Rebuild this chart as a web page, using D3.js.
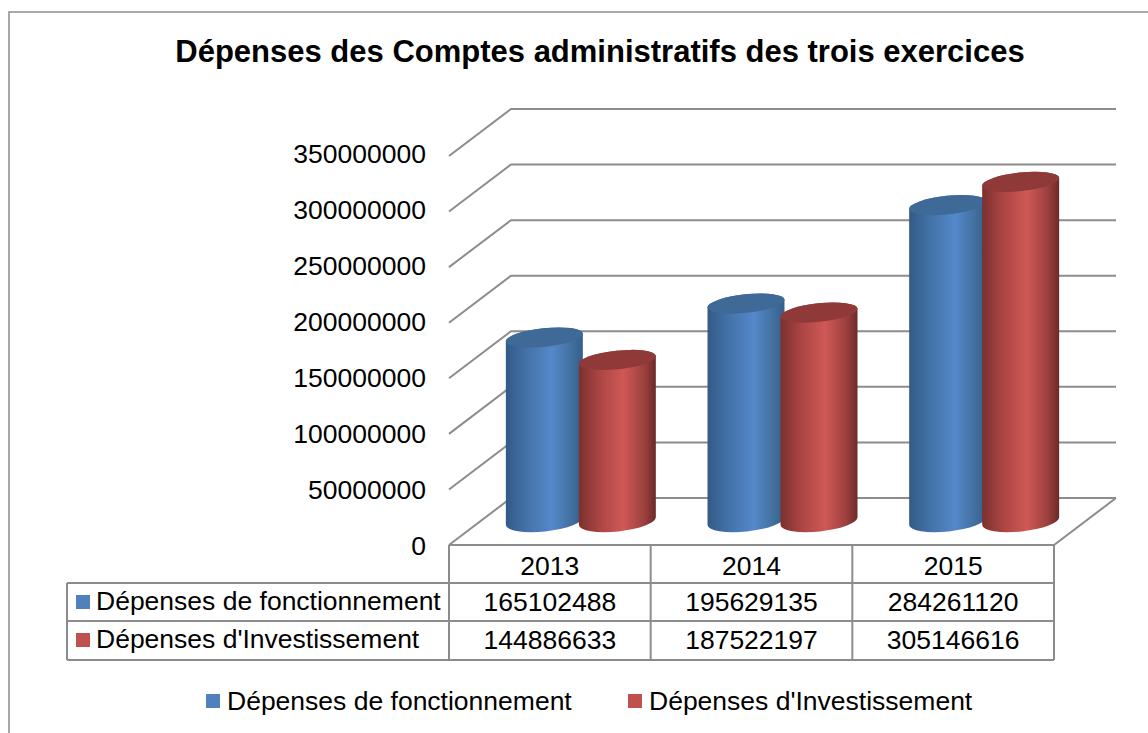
<!DOCTYPE html>
<html>
<head>
<meta charset="utf-8">
<script src="https://cdn.jsdelivr.net/npm/d3@7"></script>
<style>
  html, body { margin: 0; padding: 0; background: #fff; }
  svg { display: block; }
  text { font-family: "Liberation Sans", Arial, sans-serif; fill: #000; }
  .axis path, .axis line { display: none; }
</style>
</head>
<body>
<svg id="chart" width="1148" height="733"></svg>
<script>
const title = "Dépenses des Comptes administratifs des trois exercices";
const categories = ["2013", "2014", "2015"];
const seriesNames = ["Dépenses de fonctionnement", "Dépenses d'Investissement"];
const fonctionnement = [165102488, 195629135, 284261120];
const investissement = [144886633, 187522197, 305146616];
const yTicks = [0, 50000000, 100000000, 150000000, 200000000, 250000000, 300000000, 350000000];

const seriesValues = [fonctionnement, investissement];
const colors = ["#4f81bd", "#c0504d"];
const gridColor = "#8c8c8c";
const fontSize = 26.5;

const svg = d3.select("#chart");

// frame, the crop of the original cuts it at the right and bottom
svg.append("path")
    .attr("d", "M9,733V12H1148")
    .attr("fill", "none")
    .attr("stroke", gridColor)
    .attr("stroke-width", 1.5);

svg.append("text")
    .attr("x", 600)
    .attr("y", 61.5)
    .attr("text-anchor", "middle")
    .attr("font-size", 31)
    .attr("font-weight", "bold")
    .text(title);

// front plane of the 3d box
const left = 449, right = 1054, floorY = 545;
const depthX = 62, depthY = 47;

const x = d3.scaleBand().domain(categories).range([left, right]);
const y = d3.scaleLinear().domain([0, 350000000]).range([floorY, 156]);
// the tick labels sit a touch wider apart than the gridlines
const yLabels = d3.scaleLinear().domain([0, 350000000]).range([floorY + 1, 154]);
const xSeries = d3.scaleBand().domain(d3.range(2)).range([-73, 73]);

const grid = svg.append("g")
    .attr("fill", "none")
    .attr("stroke", gridColor)
    .attr("stroke-width", 2);

grid.selectAll("path.wall")
    .data(yTicks)
    .join("path")
    .attr("class", "wall")
    .attr("d", d => `M${left},${y(d)}L${left + depthX},${y(d) - depthY}H${right + depthX}`);

grid.append("path")
    .attr("d", `M${left},${floorY}H${right}L${right + depthX},${floorY - depthY}`);

svg.append("g")
    .attr("class", "axis")
    .attr("transform", "translate(426,0)")
    .call(d3.axisLeft(yLabels).tickValues(yTicks).tickSize(0).tickPadding(0).tickFormat(d3.format("d")))
    .call(g => g.selectAll("text").attr("font-size", fontSize).attr("font-family", null));

// cylinders
const defs = svg.append("defs");
const bodyStops = [
    [[0, "#325a86"], [0.28, "#4473a9"], [0.6, "#5488ca"], [0.85, "#42709f"], [1, "#345e8c"]],
    [[0, "#7c302e"], [0.28, "#ac4644"], [0.58, "#cf5856"], [0.85, "#9c403e"], [1, "#6c2a28"]]
];
const topColors = ["#3f6997", "#8f3a38"];

bodyStops.forEach((stops, i) => {
    defs.append("linearGradient")
        .attr("id", "body" + i)
        .selectAll("stop")
        .data(stops)
        .join("stop")
        .attr("offset", d => d[0])
        .attr("stop-color", d => d[1]);
});

const rx = 38.7, ryTop = 9.3, ryBottom = 10.5, tilt = -6;
const tiltRad = tilt * Math.PI / 180;
const dx = rx * Math.cos(tiltRad), dy = rx * Math.sin(tiltRad);
const midX = 31, midY = 24;

const cylinderPath = (cx, yTop, yBot) =>
    `M${cx - dx},${yTop - dy}L${cx - dx},${yBot - dy}` +
    `A${rx},${ryBottom} ${tilt} 0 0 ${cx + dx},${yBot + dy}` +
    `L${cx + dx},${yTop + dy}` +
    `A${rx},${ryTop} ${tilt} 0 0 ${cx - dx},${yTop - dy}Z`;

const bars = svg.append("g");
categories.forEach((cat, c) => {
    seriesValues.forEach((values, s) => {
        const cx = x(cat) + x.bandwidth() / 2 + midX + xSeries(s) + xSeries.bandwidth() / 2;
        const yTop = y(values[c]) - midY;
        const yBot = y(0) - midY;
        bars.append("path")
            .attr("d", cylinderPath(cx, yTop, yBot))
            .attr("fill", `url(#body${s})`);
        bars.append("ellipse")
            .attr("rx", rx)
            .attr("ry", ryTop)
            .attr("transform", `translate(${cx},${yTop}) rotate(${tilt})`)
            .attr("fill", topColors[s]);
    });
});

// data table under the plot
const tableLeft = 67;
const rowY = [583, 621, 660];
const tableLines = svg.append("g")
    .attr("fill", "none")
    .attr("stroke", gridColor)
    .attr("stroke-width", 2);

tableLines.selectAll("path.row")
    .data(rowY)
    .join("path")
    .attr("class", "row")
    .attr("d", d => `M${tableLeft},${d}H${right}`);

tableLines.append("path").attr("d", `M${tableLeft},${rowY[0]}V${rowY[2]}`);
tableLines.selectAll("path.col")
    .data(x.domain().concat("end"))
    .join("path")
    .attr("class", "col")
    .attr("d", d => {
        const px = d === "end" ? right : x(d);
        return `M${px},${floorY}V${rowY[2]}`;
    });

svg.append("g")
    .selectAll("text")
    .data(categories)
    .join("text")
    .attr("x", d => x(d) + x.bandwidth() / 2)
    .attr("y", 575)
    .attr("text-anchor", "middle")
    .attr("font-size", fontSize)
    .text(d => d);

seriesNames.forEach((name, s) => {
    const top = rowY[s];
    svg.append("rect")
        .attr("x", 76)
        .attr("y", top + 12)
        .attr("width", 14)
        .attr("height", 14)
        .attr("fill", colors[s]);
    svg.append("text")
        .attr("x", 96)
        .attr("y", top + 27)
        .attr("font-size", fontSize)
        .text(name);
    svg.append("g")
        .selectAll("text")
        .data(seriesValues[s])
        .join("text")
        .attr("x", (d, i) => x(categories[i]) + x.bandwidth() / 2)
        .attr("y", top + 28)
        .attr("text-anchor", "middle")
        .attr("font-size", fontSize)
        .text(d => d);
});

// legend
const legendX = [206, 628];
seriesNames.forEach((name, s) => {
    svg.append("rect")
        .attr("x", legendX[s])
        .attr("y", 694)
        .attr("width", 14)
        .attr("height", 14)
        .attr("fill", colors[s]);
    svg.append("text")
        .attr("x", legendX[s] + 21)
        .attr("y", 710)
        .attr("font-size", fontSize)
        .text(name);
});
</script>
</body>
</html>
